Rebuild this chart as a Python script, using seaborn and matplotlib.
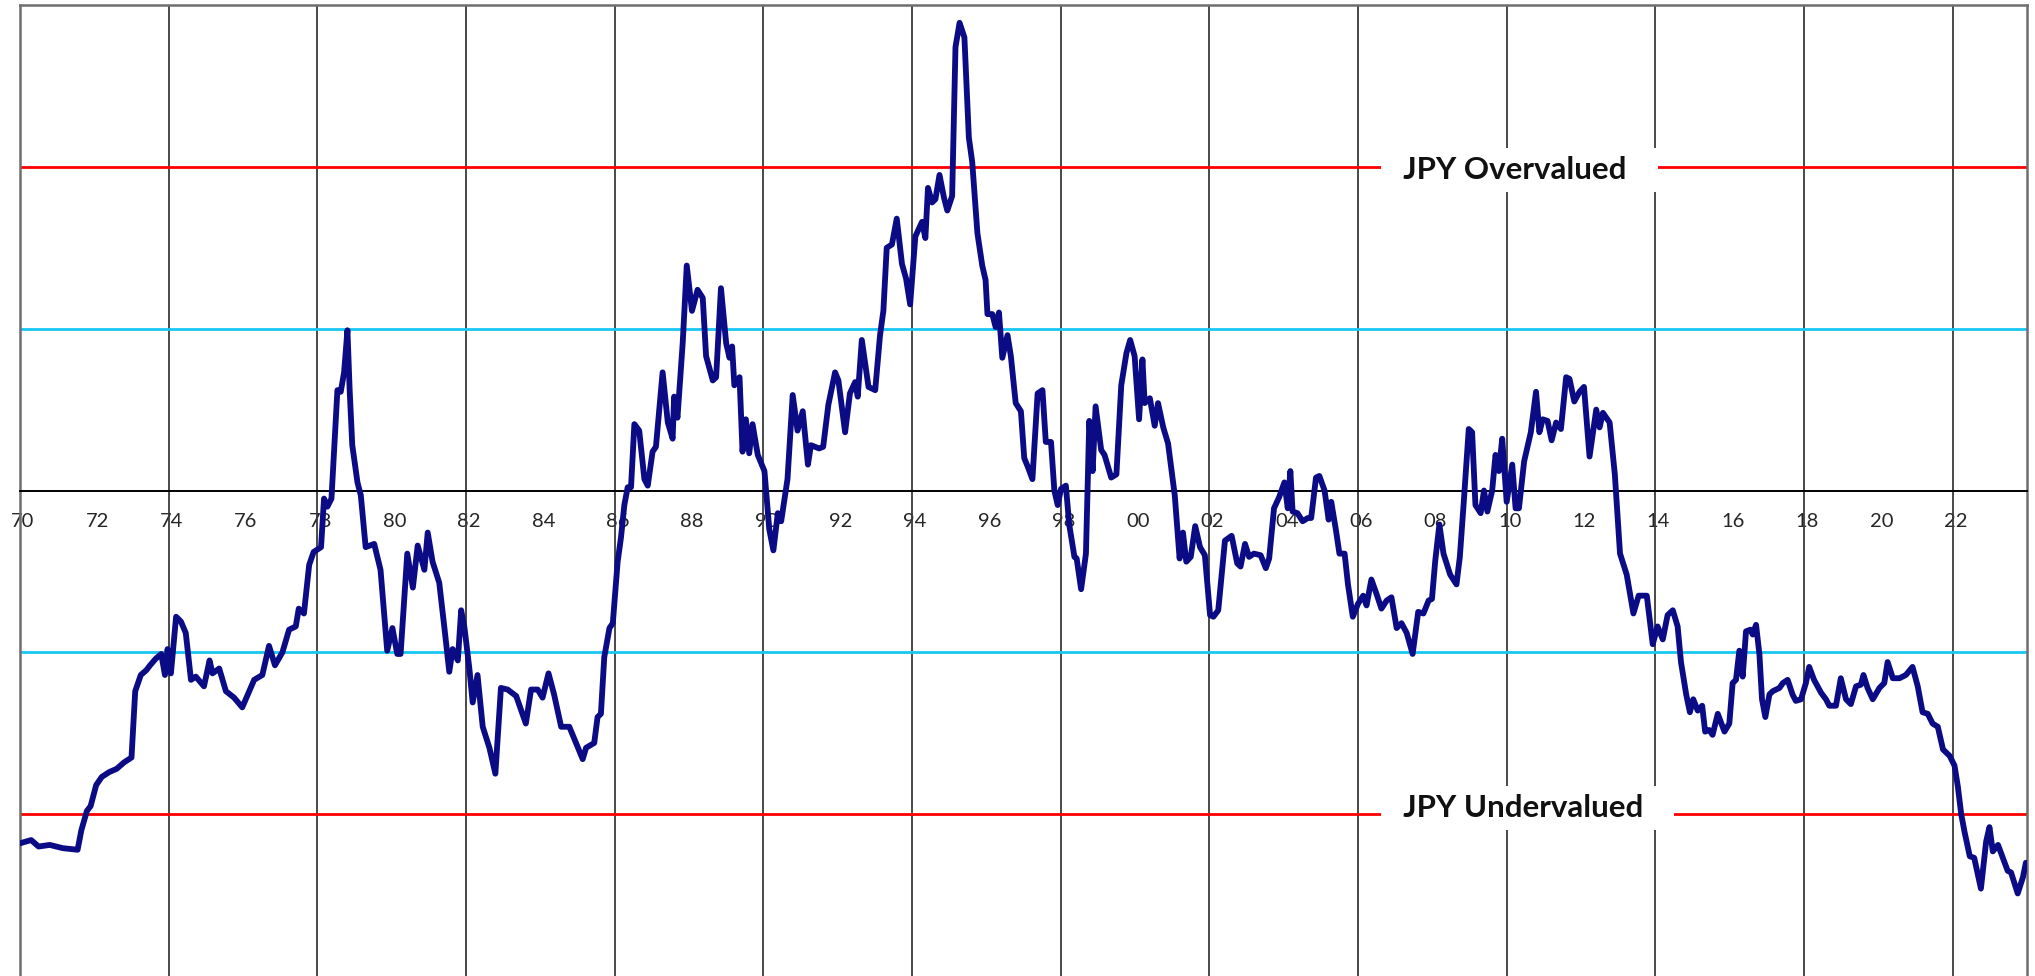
import matplotlib
matplotlib.use("Agg")
import matplotlib.pyplot as plt
import matplotlib.transforms as mtransforms
import seaborn as sns
import pandas as pd

# ---- data (deviation of JPY real rate from fair value, in std devs) ----
t_70s = [1970.0, 1970.3, 1970.5, 1970.8, 1971.15, 1971.55, 1971.65, 1971.8, 1971.9, 1972.05,
         1972.2, 1972.4, 1972.6, 1972.8, 1973.0, 1973.1, 1973.25, 1973.4, 1973.5, 1973.65,
         1973.8, 1973.9, 1973.97, 1974.06, 1974.2, 1974.33, 1974.46, 1974.6, 1974.73, 1974.95,
         1975.1, 1975.18, 1975.36, 1975.54, 1975.76, 1975.98, 1976.3, 1976.52, 1976.7, 1976.86,
         1977.06, 1977.24, 1977.42, 1977.5, 1977.64, 1977.78, 1977.9, 1978.1, 1978.18, 1978.27,
         1978.38, 1978.54, 1978.63, 1978.72, 1978.81, 1978.87, 1978.94, 1979.08, 1979.17, 1979.3,
         1979.53, 1979.7, 1979.88]
v_70s = [-2.18, -2.16, -2.2, -2.19, -2.21, -2.22, -2.1, -1.98, -1.95, -1.82,
         -1.77, -1.74, -1.72, -1.68, -1.65, -1.24, -1.14, -1.11, -1.08, -1.04,
         -1.01, -1.14, -0.98, -1.13, -0.78, -0.81, -0.88, -1.17, -1.15, -1.21,
         -1.05, -1.13, -1.1, -1.24, -1.28, -1.34, -1.17, -1.14, -0.96, -1.08,
         -1.0, -0.86, -0.84, -0.73, -0.76, -0.46, -0.38, -0.35, -0.05, -0.1,
         -0.05, 0.62, 0.61, 0.73, 0.99, 0.62, 0.28, 0.05, -0.03, -0.35,
         -0.33, -0.49, -0.99]

t_80s = [1980.02, 1980.15, 1980.24, 1980.42, 1980.57, 1980.7, 1980.88, 1980.97, 1981.1, 1981.28,
         1981.42, 1981.55, 1981.64, 1981.78, 1981.87, 1981.96, 1982.09, 1982.18, 1982.31, 1982.45,
         1982.63, 1982.79, 1982.94, 1983.12, 1983.35, 1983.61, 1983.75, 1983.93, 1984.06, 1984.22,
         1984.37, 1984.56, 1984.78, 1984.96, 1985.14, 1985.23, 1985.45, 1985.54, 1985.63, 1985.72,
         1985.86, 1985.95, 1986.08, 1986.17, 1986.26, 1986.35, 1986.44, 1986.53, 1986.66, 1986.8,
         1986.89, 1987.02, 1987.11, 1987.29, 1987.43, 1987.56, 1987.6, 1987.69, 1987.83, 1987.94,
         1988.08, 1988.23, 1988.37, 1988.46, 1988.64, 1988.73, 1988.86, 1989.0, 1989.09, 1989.16,
         1989.22, 1989.36, 1989.44, 1989.53, 1989.62, 1989.71, 1989.85]
v_80s = [-0.85, -1.01, -1.01, -0.39, -0.6, -0.34, -0.49, -0.26, -0.44, -0.57,
         -0.85, -1.12, -0.98, -1.05, -0.74, -0.85, -1.1, -1.31, -1.14, -1.46,
         -1.59, -1.75, -1.22, -1.23, -1.27, -1.44, -1.23, -1.23, -1.28, -1.13,
         -1.26, -1.46, -1.46, -1.56, -1.66, -1.59, -1.56, -1.4, -1.38, -1.03,
         -0.85, -0.82, -0.44, -0.29, -0.09, 0.02, 0.02, 0.41, 0.37, 0.07,
         0.03, 0.24, 0.27, 0.73, 0.42, 0.32, 0.58, 0.45, 0.91, 1.39,
         1.11, 1.24, 1.19, 0.83, 0.68, 0.7, 1.25, 0.91, 0.82, 0.89,
         0.65, 0.7, 0.24, 0.44, 0.23, 0.41, 0.22]

t_90s = [1990.03, 1990.16, 1990.27, 1990.39, 1990.48, 1990.65, 1990.79, 1990.92, 1991.06, 1991.2,
         1991.28, 1991.5, 1991.61, 1991.75, 1991.93, 1992.02, 1992.2, 1992.33, 1992.47, 1992.54,
         1992.65, 1992.83, 1993.01, 1993.14, 1993.23, 1993.32, 1993.46, 1993.59, 1993.73, 1993.84,
         1993.95, 1994.09, 1994.27, 1994.36, 1994.43, 1994.54, 1994.63, 1994.74, 1994.86, 1994.95,
         1995.08, 1995.17, 1995.28, 1995.41, 1995.53, 1995.62, 1995.76, 1995.89, 1995.98, 1996.03,
         1996.16, 1996.25, 1996.34, 1996.43, 1996.57, 1996.66, 1996.79, 1996.93, 1997.02, 1997.11,
         1997.24, 1997.38, 1997.51, 1997.6, 1997.74, 1997.83, 1997.92, 1998.01, 1998.14, 1998.23,
         1998.37, 1998.43, 1998.55, 1998.68, 1998.77, 1998.86, 1998.94, 1999.09, 1999.18, 1999.36,
         1999.5, 1999.63, 1999.77, 1999.87, 1999.99]
v_90s = [0.12, -0.24, -0.37, -0.14, -0.19, 0.07, 0.59, 0.37, 0.49, 0.16,
         0.28, 0.26, 0.27, 0.53, 0.73, 0.68, 0.36, 0.6, 0.67, 0.58,
         0.93, 0.64, 0.62, 0.96, 1.11, 1.5, 1.52, 1.68, 1.4, 1.31,
         1.15, 1.57, 1.66, 1.56, 1.87, 1.78, 1.8, 1.95, 1.81, 1.73,
         1.82, 2.74, 2.89, 2.8, 2.18, 2.03, 1.59, 1.39, 1.3, 1.09,
         1.09, 1.01, 1.1, 0.82, 0.96, 0.83, 0.54, 0.49, 0.2, 0.15,
         0.07, 0.6, 0.62, 0.3, 0.3, 0.0, -0.09, 0.01, 0.03, -0.21,
         -0.41, -0.42, -0.61, -0.39, 0.43, 0.12, 0.52, 0.25, 0.22, 0.08,
         0.1, 0.65, 0.85, 0.93, 0.83]

t_00s = [2000.11, 2000.2, 2000.26, 2000.4, 2000.53, 2000.62, 2000.76, 2000.89, 2001.07, 2001.2,
         2001.29, 2001.38, 2001.5, 2001.62, 2001.75, 2001.88, 2002.02, 2002.11, 2002.24, 2002.42,
         2002.6, 2002.75, 2002.84, 2002.96, 2003.07, 2003.2, 2003.38, 2003.52, 2003.61, 2003.74,
         2003.88, 2004.02, 2004.11, 2004.18, 2004.24, 2004.37, 2004.51, 2004.65, 2004.74, 2004.87,
         2004.96, 2005.1, 2005.21, 2005.28, 2005.41, 2005.5, 2005.64, 2005.73, 2005.86, 2006.0,
         2006.14, 2006.23, 2006.36, 2006.5, 2006.63, 2006.77, 2006.9, 2007.04, 2007.17, 2007.31,
         2007.47, 2007.62, 2007.76, 2007.9, 2007.99, 2008.08, 2008.19, 2008.3, 2008.48, 2008.65,
         2008.74, 2008.84, 2008.98, 2009.07, 2009.16, 2009.3, 2009.39, 2009.48, 2009.61, 2009.7,
         2009.79, 2009.88]
v_00s = [0.44, 0.81, 0.54, 0.57, 0.4, 0.54, 0.39, 0.29, -0.03, -0.42,
         -0.26, -0.44, -0.41, -0.22, -0.35, -0.4, -0.77, -0.78, -0.74, -0.31,
         -0.28, -0.45, -0.47, -0.33, -0.41, -0.39, -0.4, -0.48, -0.42, -0.11,
         -0.04, 0.05, -0.11, 0.12, -0.13, -0.14, -0.19, -0.17, -0.17, 0.08,
         0.09, 0.0, -0.18, -0.07, -0.25, -0.39, -0.39, -0.58, -0.78, -0.7,
         -0.65, -0.71, -0.55, -0.64, -0.73, -0.68, -0.66, -0.85, -0.82, -0.88,
         -1.01, -0.75, -0.76, -0.68, -0.67, -0.43, -0.21, -0.39, -0.52, -0.58,
         -0.41, -0.09, 0.38, 0.36, -0.09, -0.14, 0.0, -0.13, 0.0, 0.22,
         0.12, 0.32]

t_10s = [2010.0, 2010.15, 2010.24, 2010.33, 2010.47, 2010.65, 2010.79, 2010.88, 2010.97, 2011.1,
         2011.21, 2011.33, 2011.46, 2011.6, 2011.69, 2011.82, 2011.96, 2012.08, 2012.23, 2012.41,
         2012.5, 2012.59, 2012.77, 2012.91, 2013.05, 2013.23, 2013.41, 2013.55, 2013.77, 2013.93,
         2014.06, 2014.2, 2014.33, 2014.47, 2014.6, 2014.69, 2014.83, 2014.93, 2015.02, 2015.14,
         2015.26, 2015.34, 2015.45, 2015.54, 2015.68, 2015.86, 2015.99, 2016.08, 2016.17, 2016.26,
         2016.35, 2016.44, 2016.56, 2016.62, 2016.71, 2016.8, 2016.87, 2016.96, 2017.07, 2017.16,
         2017.34, 2017.43, 2017.56, 2017.69, 2017.78, 2017.92, 2018.05, 2018.14, 2018.27, 2018.46,
         2018.59, 2018.68, 2018.86, 2018.99, 2019.13, 2019.26, 2019.4, 2019.53, 2019.6, 2019.71,
         2019.85]
v_10s = [-0.07, 0.16, -0.11, -0.11, 0.18, 0.36, 0.61, 0.36, 0.44, 0.43,
         0.31, 0.42, 0.38, 0.7, 0.69, 0.55, 0.61, 0.64, 0.21, 0.5,
         0.39, 0.48, 0.42, 0.1, -0.39, -0.52, -0.76, -0.65, -0.65, -0.95,
         -0.84, -0.92, -0.77, -0.74, -0.84, -1.06, -1.26, -1.37, -1.29, -1.36,
         -1.33, -1.49, -1.48, -1.51, -1.38, -1.49, -1.44, -1.19, -1.17, -0.99,
         -1.15, -0.87, -0.86, -0.89, -0.83, -1.01, -1.29, -1.4, -1.26, -1.24,
         -1.22, -1.19, -1.17, -1.26, -1.3, -1.29, -1.19, -1.09, -1.17, -1.25,
         -1.29, -1.33, -1.33, -1.16, -1.29, -1.32, -1.21, -1.2, -1.14, -1.22,
         -1.29]

t_20s = [2020.03, 2020.16, 2020.25, 2020.39, 2020.57, 2020.74, 2020.92, 2021.06, 2021.19, 2021.33,
         2021.46, 2021.6, 2021.74, 2021.92, 2022.05, 2022.14, 2022.23, 2022.32, 2022.46, 2022.58,
         2022.76, 2022.9, 2022.99, 2023.08, 2023.22, 2023.35, 2023.48, 2023.57, 2023.75, 2023.89,
         2023.97]
v_20s = [-1.22, -1.19, -1.06, -1.16, -1.16, -1.14, -1.09, -1.21, -1.37, -1.38,
         -1.44, -1.46, -1.6, -1.64, -1.7, -1.83, -2.0, -2.11, -2.26, -2.27,
         -2.46, -2.17, -2.08, -2.23, -2.19, -2.27, -2.35, -2.36, -2.49, -2.39,
         -2.3]

tick_years = list(range(1970, 2024, 2))
tick_labels = [f"{y % 100:02d}" for y in tick_years]
grid_years = list(range(1974, 2024, 4))
sd_levels = [1, -1]
extreme_levels = [2, -2]
label_over = "JPY Overvalued"
label_under = "JPY Undervalued"

df = pd.DataFrame({
    "year": t_70s + t_80s + t_90s + t_00s + t_10s + t_20s,
    "dev": v_70s + v_80s + v_90s + v_00s + v_10s + v_20s,
})

# ---- figure ----
sns.set_theme(style="white")
plt.rcParams["font.family"] = ["Lato", "DejaVu Sans"]

W, H = 2035, 976
fig = plt.figure(figsize=(W / 100, H / 100), dpi=100)
fig.patch.set_facecolor("white")
ax = fig.add_axes([20 / W, 0, 2007 / W, 971 / H])
ax.set_facecolor("white")

for gy in grid_years:
    ax.axvline(gy, color="#3a3a3a", lw=1.3, zorder=1)
for lv in sd_levels:
    ax.axhline(lv, color="#18C6F2", lw=2.0, zorder=2)
for lv in extreme_levels:
    ax.axhline(lv, color="#FF0000", lw=2.0, zorder=2)

sns.lineplot(data=df, x="year", y="dev", estimator=None, sort=False,
             color="#0B0B86", lw=4.2, ax=ax, zorder=6,
             solid_joinstyle="round", solid_capstyle="round")

ax.set_xlim(1970, 2024)
ax.set_ylim(-3, 3)
ax.set_xlabel("")
ax.set_ylabel("")
ax.set_yticks([])

# x axis along zero line
ax.spines["bottom"].set_position(("data", 0))
ax.spines["bottom"].set_color("black")
ax.spines["bottom"].set_linewidth(1.4)
ax.spines["bottom"].set_zorder(3)
for s in ["left", "top", "right"]:
    ax.spines[s].set_color("#6e6e6e")
    ax.spines[s].set_linewidth(1.8)

ax.set_xticks(tick_years, tick_labels)
ax.tick_params(axis="x", length=0, pad=16, labelsize=14.5, labelcolor="#262626")
offset = mtransforms.ScaledTranslation(3 / 100, 0, fig.dpi_scale_trans)
for lbl in ax.get_xticklabels():
    lbl.set_transform(lbl.get_transform() + offset)

box = dict(facecolor="white", edgecolor="none", boxstyle="square,pad=0.25")
ax.text(2006.82, 1.98, "  " + label_over + "   ", ha="left", va="center",
        fontsize=22.5, fontweight="bold", color="#111111", bbox=box, zorder=4)
ax.text(2006.82, -1.96, "  " + label_under + "   ", ha="left", va="center",
        fontsize=22.5, fontweight="bold", color="#111111", bbox=box, zorder=4)

fig.savefig("out.png", dpi=100, facecolor="white")
